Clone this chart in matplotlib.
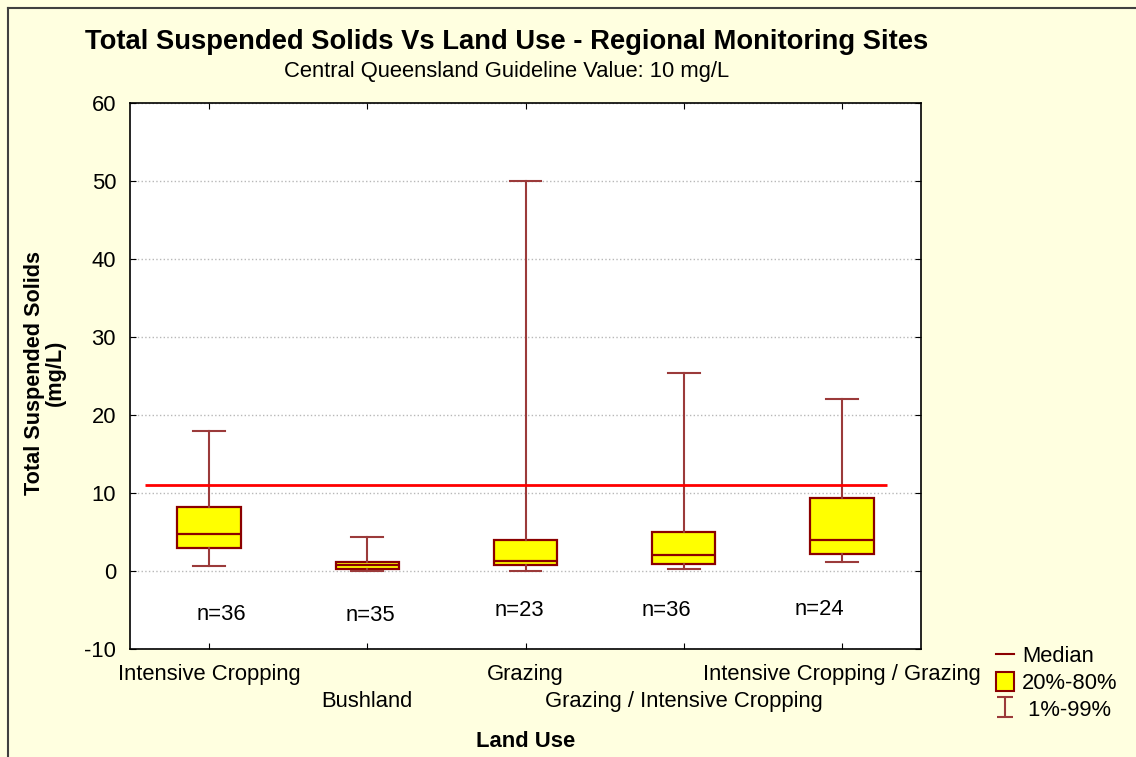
''' Total suspended solids by land use - box plot '''

import matplotlib
matplotlib.use('Agg')
from matplotlib import pyplot as plt
from matplotlib.lines import Line2D
from matplotlib.patches import Patch
from matplotlib.path import Path

plt.rcParams['font.family'] = ['Liberation Sans', 'DejaVu Sans']
plt.rcParams['axes.unicode_minus'] = False

# data
land_use = ['Intensive Cropping', 'Bushland', 'Grazing',
            'Grazing / Intensive Cropping', 'Intensive Cropping / Grazing']
p01 = [0.6, 0.0, 0.05, 0.3, 1.1]
p20 = [2.9, 0.3, 0.8, 0.9, 2.2]
median = [4.8, 0.75, 1.25, 2.1, 4.0]
p80 = [8.2, 1.2, 4.0, 5.0, 9.3]
p99 = [18.0, 4.4, 50.0, 25.4, 22.0]
n_samples = [36, 35, 23, 36, 24]
# where the n= labels sit (x in category units, y in mg/L)
n_label_x = [0.58, 1.52, 2.46, 3.39, 4.36]
n_label_y = [-5.6, -5.7, -5.1, -5.1, -4.9]
guideline = 11.0
guide_span = (0.095, 4.785)

bg = '#FFFFE0'
edge = '#8B0000'
whisk = '#9B3A3A'
fs = 15.8

fig = plt.figure(figsize=(11.36, 7.57), dpi=100, facecolor=bg)
ax = fig.add_axes([130/1136, 1-649/757, 791/1136, 546/757])
ax.set_facecolor('white')

positions = [i + 0.5 for i in range(len(land_use))]
stats = []
for i in range(len(land_use)):
	stats.append({'med': median[i], 'q1': p20[i], 'q3': p80[i],
	              'whislo': p01[i], 'whishi': p99[i], 'fliers': []})

ax.bxp(stats, positions=positions, widths=0.4, capwidths=0.2,
       patch_artist=True, showfliers=False, manage_ticks=False,
       boxprops=dict(facecolor='#FFFF00', edgecolor=edge, linewidth=1.6),
       medianprops=dict(color=edge, linewidth=1.6),
       whiskerprops=dict(color=whisk, linewidth=1.5),
       capprops=dict(color=whisk, linewidth=1.5), zorder=3)

ax.hlines(guideline, guide_span[0], guide_span[1], color='#FF0000', linewidth=2, zorder=4)

for x, y, n in zip(n_label_x, n_label_y, n_samples):
	ax.text(x, y, 'n=%d' % n, ha='center', va='center', fontsize=fs)

ax.set_xlim(0, 5)
ax.set_ylim(-10, 60)
ax.set_yticks(range(-10, 70, 10))
ax.set_xticks(positions)
ax.set_xticklabels(land_use)
ax.tick_params(direction='in', length=4, top=True, right=True, labelsize=fs, pad=10)
ax.tick_params(axis='x', pad=11)
# every second label sits one line lower
for i, tick in enumerate(ax.xaxis.get_major_ticks()):
	if i % 2 == 1:
		tick.set_pad(30)
ax.yaxis.grid(True, linestyle=':', color='#B8B8B8', linewidth=1)
ax.set_axisbelow(True)
for s in ax.spines.values():
	s.set_linewidth(1.2)

ax.set_xlabel('Land Use', fontsize=fs, fontweight='bold')
ax.xaxis.set_label_coords(0.5, -0.150)
ax.set_ylabel('Total Suspended Solids\n(mg/L)', fontsize=15.6, fontweight='bold',
              linespacing=1.0, ha='center', va='center')
ax.yaxis.set_label_coords(-0.108, 0.505)

fig.text(507/1136, 1-42/757, 'Total Suspended Solids Vs Land Use - Regional Monitoring Sites',
         ha='center', va='center', fontsize=19.7, fontweight='bold')
fig.text(507/1136, 1-72/757, 'Central Queensland Guideline Value: 10 mg/L',
         ha='center', va='center', fontsize=fs)

# outer frame (only top and left visible in the crop)
fig.add_artist(Line2D([7.5/1136, 7.5/1136], [0, 1-7.5/757], color='#404040', linewidth=1.5))
fig.add_artist(Line2D([7.5/1136, 1], [1-7.5/757, 1-7.5/757], color='#404040', linewidth=1.5))

# legend
ibeam = Path([(-0.8, 1), (0.8, 1), (0, 1), (0, -1), (-0.8, -1), (0.8, -1)],
             [Path.MOVETO, Path.LINETO, Path.MOVETO, Path.LINETO, Path.MOVETO, Path.LINETO])
handles = [Line2D([], [], color=edge, linewidth=1.5),
           Patch(facecolor='#FFFF00', edgecolor=edge, linewidth=1.5),
           Line2D([], [], color=whisk, linestyle='none', marker=ibeam,
                  markersize=15, markeredgewidth=1.5)]
fig.legend(handles, ['Median', '20%-80%', ' 1%-99%'], loc='center left',
           bbox_to_anchor=(996/1136, 1-683/757), frameon=False, fontsize=fs,
           handlelength=0.8, handleheight=1.0, handletextpad=0.4,
           labelspacing=0.2, borderpad=0, borderaxespad=0)

fig.savefig('out.png', dpi=100, facecolor=bg)
